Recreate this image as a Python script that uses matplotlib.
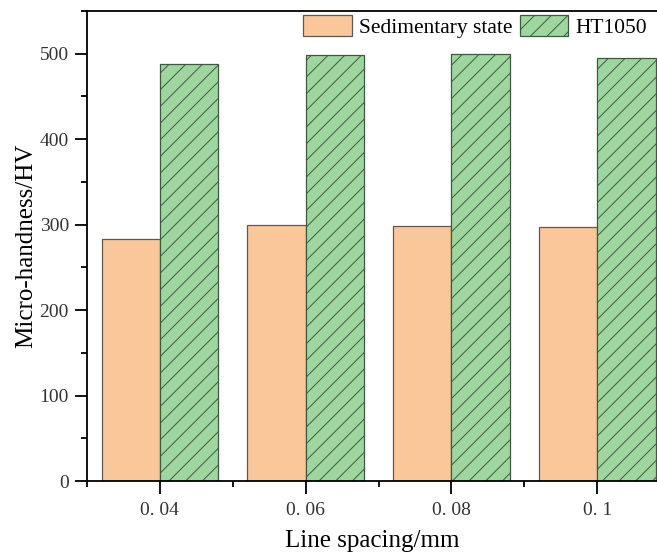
import matplotlib
matplotlib.use("Agg")
import matplotlib.pyplot as plt
import numpy as np
from matplotlib.ticker import MultipleLocator, FixedLocator

categories = ["0. 04", "0. 06", "0. 08", "0. 1"]
sedimentary = [283, 299, 298, 297]
ht1050 = [488, 499, 500, 495]

plt.rcParams['font.family'] = ['Liberation Serif', 'DejaVu Serif']
plt.rcParams['hatch.linewidth'] = 0.7

W, H = 657, 557
fig = plt.figure(figsize=(W / 100, H / 100), dpi=100)
# axes box in pixels: left 87, top 11, bottom 481, runs past the right edge
ax = fig.add_axes([87 / W, (H - 481) / H, 1 - 87 / W, (481 - 11) / H])

x = np.arange(len(categories))
w = 0.4
ax.bar(x - w / 2, sedimentary, w, color="#f9c799", edgecolor="#605850",
       linewidth=0.9, label="Sedimentary state")
ax.bar(x + w / 2, ht1050, w, color="#9fd6a0", edgecolor="#3c5a3e",
       linewidth=0.9, hatch="//", label="HT1050")

ax.set_xlim(-0.5, 3.41)
ax.set_ylim(0, 550)
ax.set_xticks(x)
ax.set_xticklabels(categories)
ax.xaxis.set_minor_locator(FixedLocator([-0.5, 0.5, 1.5, 2.5]))
ax.yaxis.set_major_locator(MultipleLocator(100))
ax.yaxis.set_minor_locator(MultipleLocator(50))

ax.tick_params(which="major", direction="out", length=9, width=1.3,
               labelsize=14, labelcolor="#333333")
ax.tick_params(which="minor", direction="out", length=4.5, width=1.3)
ax.tick_params(axis="x", pad=6)
ax.tick_params(axis="y", pad=4)

for s in ["left", "bottom", "top"]:
    ax.spines[s].set_linewidth(1.3)
ax.spines["right"].set_visible(False)

ax.set_xlabel("Line spacing/mm", fontsize=18, labelpad=8)
ax.set_ylabel("Micro-handness/HV", fontsize=18, labelpad=2)

ax.legend(loc="upper right", bbox_to_anchor=(647 / W, (H - 15) / H),
          bbox_transform=fig.transFigure, ncol=2, frameon=False,
          fontsize=15.5, handlelength=2.27, handleheight=1.1,
          handletextpad=0.32, columnspacing=0.32, borderpad=0,
          borderaxespad=0)

fig.savefig("out.png", dpi=100)
